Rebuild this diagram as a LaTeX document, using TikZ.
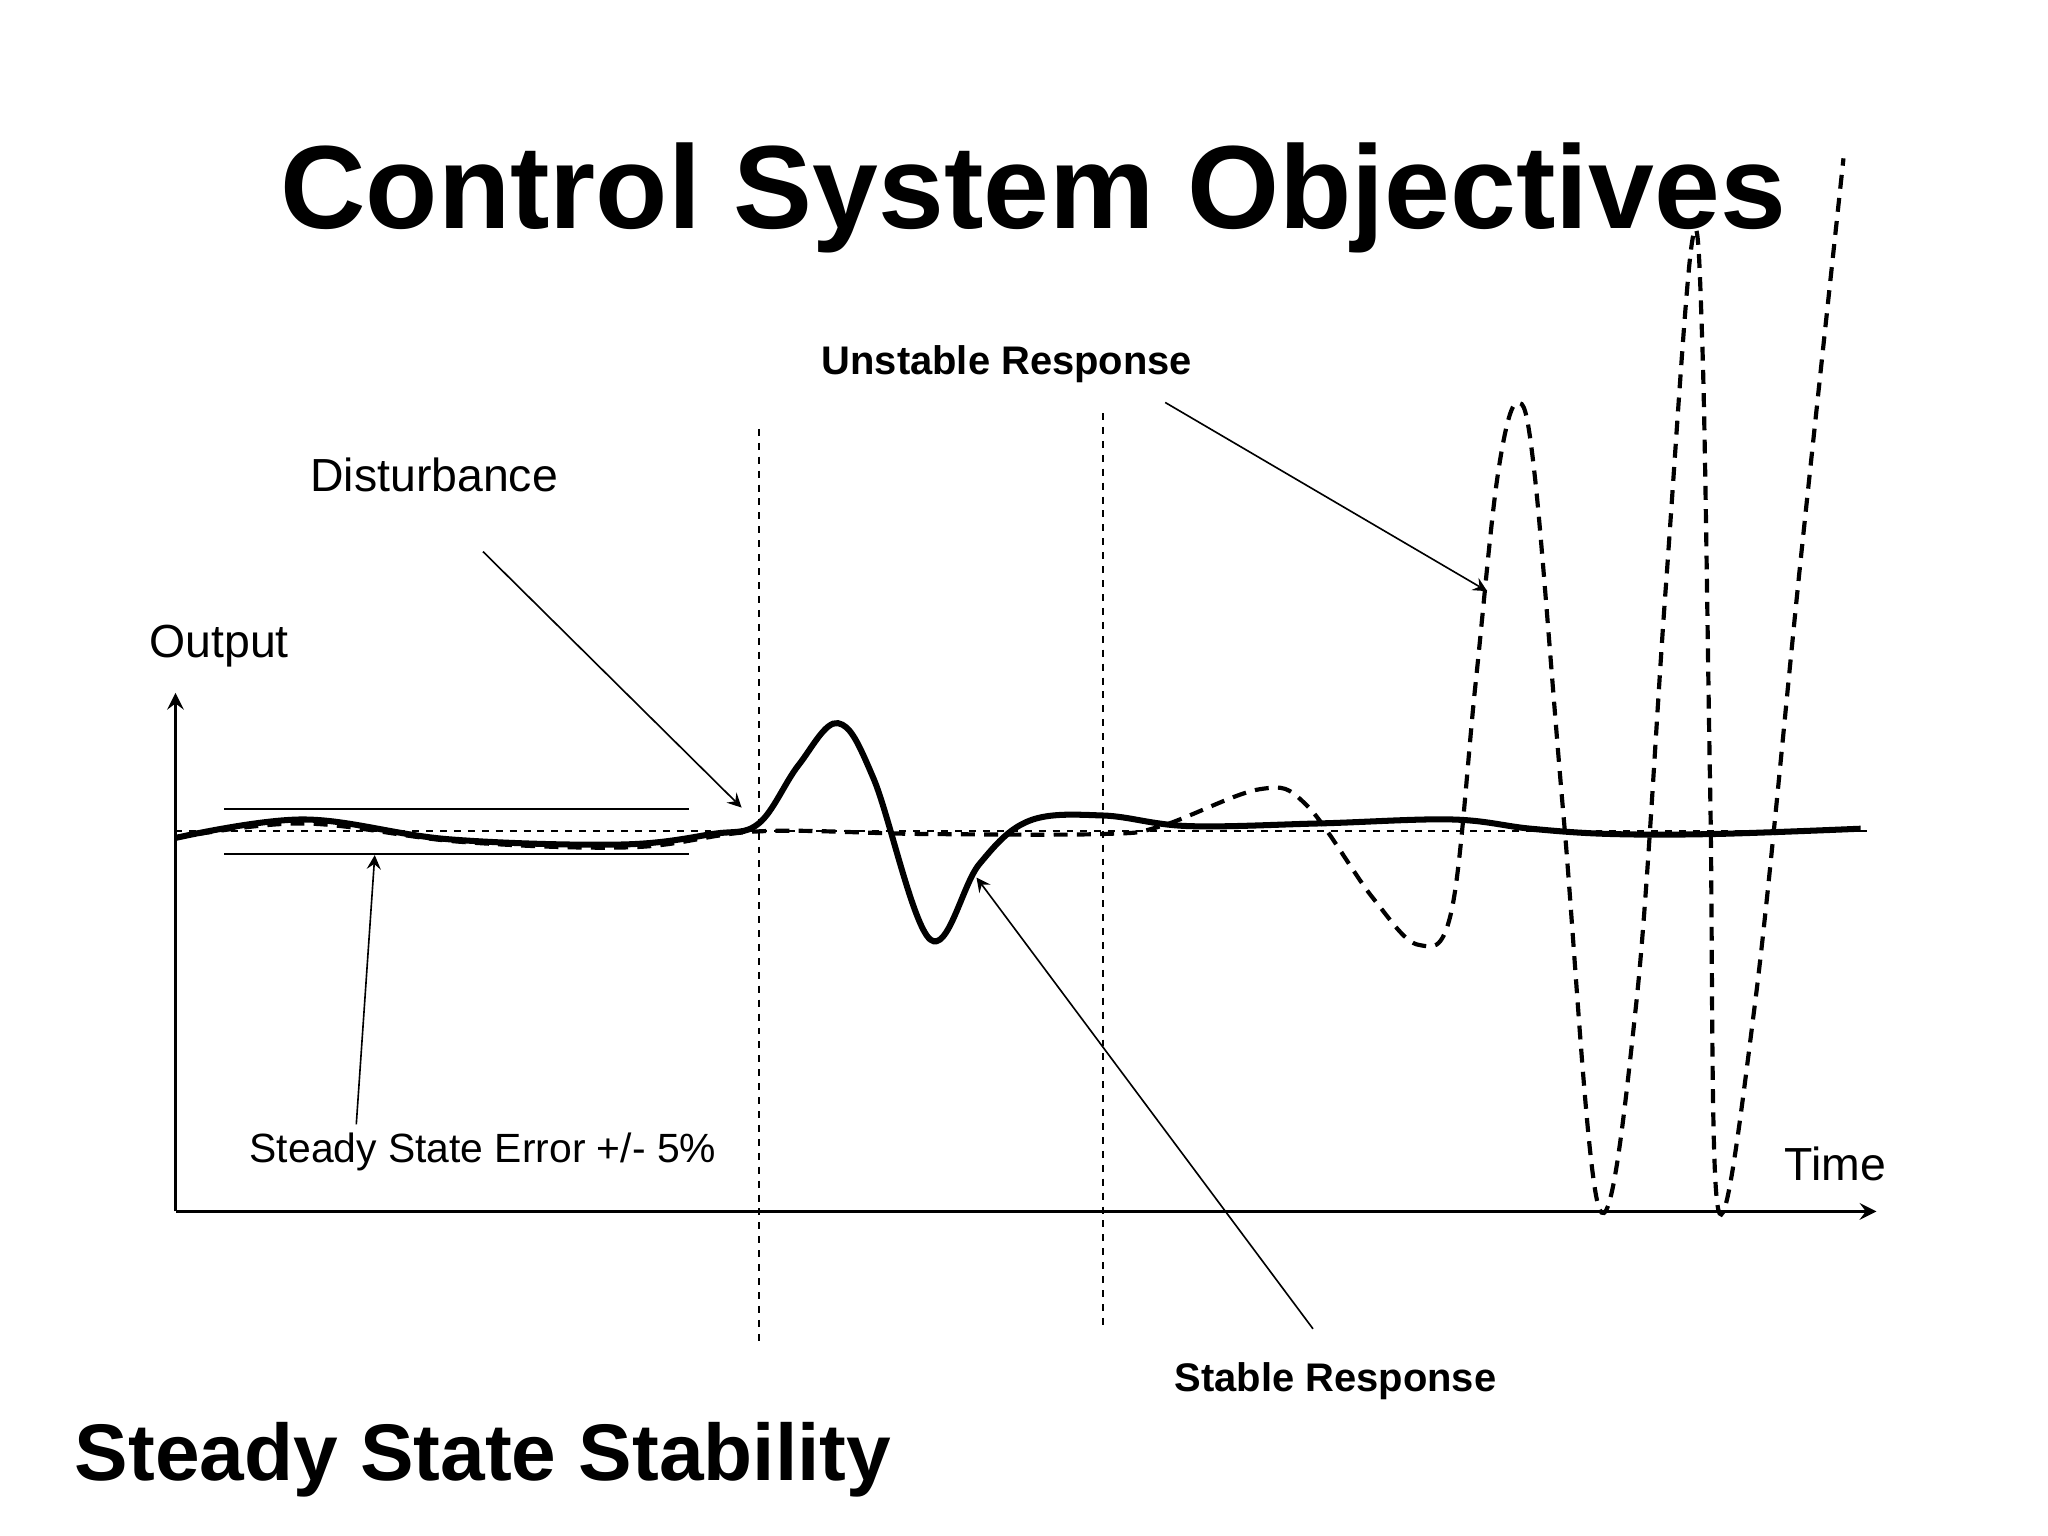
\documentclass[tikz,border=0pt]{standalone}
\usepackage{fontspec}
\setmainfont{Liberation Sans}
\begin{document}
\begin{tikzpicture}[x=0.01cm,y=-0.01cm,
  lbl/.style={inner sep=0pt,font=\fontsize{10}{12}\selectfont},
  blbl/.style={inner sep=0pt,font=\fontsize{8.6}{10}\selectfont\bfseries},
  ptr/.style={-stealth,line width=0.35pt},
  dotv/.style={densely dashed,line width=0.4pt,dash pattern=on 1.5pt off 1.5pt}]
\useasboundingbox (0,0) rectangle (1552,1164);
\node[inner sep=0pt,font=\fontsize{25.5}{28}\selectfont\bfseries] (title) at (783,150) {Control System Objectives};
\node[inner sep=0pt,anchor=west,font=\fontsize{17.3}{20}\selectfont\bfseries] (sss) at (56,1106) {Steady State Stability};
% axes
\coordinate (o) at (133,918);
\coordinate (ytop) at (133,525);
\coordinate (xend) at (1422,918);
\draw[-stealth,line width=0.6pt] (o) -- (ytop);
\draw[-stealth,line width=0.6pt] (o) -- (xend);
\node[lbl] (out) at (166,490) {Output};
\node[lbl] (time) at (1391,882) {Time};
% reference lines
\coordinate (r1) at (133,630); \coordinate (r2) at (1420,630);
\draw[dotv] (r1) -- (r2);
\coordinate (b1) at (170,613); \coordinate (b2) at (522,613);
\coordinate (b3) at (170,647); \coordinate (b4) at (522,647);
\draw[line width=0.4pt] (b1) -- (b2) (b3) -- (b4);
\coordinate (v1a) at (575,325); \coordinate (v1b) at (575,1020);
\coordinate (v2a) at (836,313); \coordinate (v2b) at (836,1005);
\draw[dotv] (v1a) -- (v1b) (v2a) -- (v2b);
% unstable response
\draw[line width=0.9pt,dash pattern=on 3pt off 2pt] plot[smooth,tension=0.6] coordinates {
(133,635) (230,624) (350,638) (480,642) (575,630) (700,632) (836,632) (880,626) (955,598) (990,610) (1040,680) (1075,716) (1100,690) (1118,520) (1135,360) (1150,305) (1163,360) (1185,620) (1212,916) (1240,760) (1262,450) (1282,185) (1290,260) (1296,600) (1302,916) (1330,760) (1365,420) (1397,120)};
% stable response
\draw[line width=1.3pt] plot[smooth,tension=0.6] coordinates {
(133,635) (230,621) (340,636) (470,640) (540,632) (575,624) (605,580) (635,548) (662,590) (705,712) (742,655) (780,622) (836,618) (900,626) (1000,624) (1100,621) (1160,628) (1220,632) (1300,632) (1410,628)};
% labels and pointers
\node[lbl] (dist) at (329,360) {Disturbance};
\coordinate (dtip) at (562,612);
\draw[ptr] (366,418) -- (dtip);
\node[blbl] (unst) at (763,276) {Unstable Response};
\coordinate (utip) at (1127,448);
\draw[ptr] (883,305) -- (utip);
\node[blbl] (stab) at (1012,1047) {Stable Response};
\coordinate (stip) at (740,665);
\draw[ptr] (995,1007) -- (stip);
\node[inner sep=0pt,font=\fontsize{8.8}{10}\selectfont] (sse) at (366,873) {Steady State Error +/- 5\%};
\coordinate (etip) at (284,648);
\draw[ptr] (270,852) -- (etip);
\end{tikzpicture}
\end{document}
